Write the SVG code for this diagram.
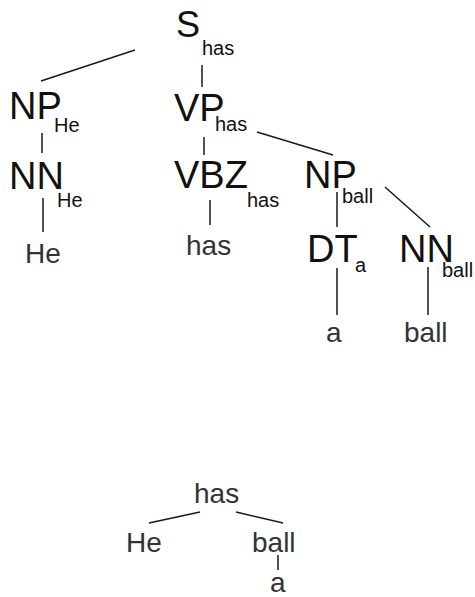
<svg xmlns="http://www.w3.org/2000/svg" width="475" height="597" viewBox="0 0 475 597">
  <style>
    text { font-family: "Liberation Sans", Arial, sans-serif; fill: #111; }
    .cat { font-size: 38px; }
    .top { font-size: 36px; }
    .sub { font-size: 20px; }
    .word { font-size: 28px; fill: #333; }
    .edge { stroke: #1a1a1a; stroke-width: 1.5; fill: none; }
  </style>
  <rect width="475" height="597" fill="#fff"/>

  <!-- constituency tree -->
  <g id="connectors">
    <line class="edge" x1="135" y1="50" x2="41" y2="81"/>
    <line class="edge" x1="202" y1="65" x2="202" y2="87"/>
    <line class="edge" x1="42" y1="133" x2="42" y2="153"/>
    <line class="edge" x1="43" y1="198" x2="43" y2="232"/>
    <line class="edge" x1="204" y1="137" x2="204" y2="155"/>
    <line class="edge" x1="257" y1="132" x2="333" y2="155"/>
    <line class="edge" x1="210" y1="200" x2="210" y2="225"/>
    <line class="edge" x1="337" y1="192" x2="337" y2="227"/>
    <line class="edge" x1="385" y1="187" x2="430" y2="227"/>
    <line class="edge" x1="337" y1="268" x2="337" y2="315"/>
    <line class="edge" x1="428" y1="267" x2="428" y2="315"/>
    <!-- dependency tree -->
    <line class="edge" x1="200" y1="512" x2="149" y2="523"/>
    <line class="edge" x1="236" y1="512" x2="283" y2="523"/>
    <line class="edge" x1="278" y1="555" x2="278" y2="570"/>
  </g>

  <g id="S_has"><text class="top" x="176" y="37">S</text><text class="sub" x="202" y="55">has</text></g>
  <g id="NP_He"><text class="cat" x="9" y="119">NP</text><text class="sub" x="54" y="132">He</text></g>
  <g id="VP_has"><text class="cat" x="174" y="121">VP</text><text class="sub" x="215" y="131">has</text></g>
  <g id="NN_He"><text class="cat" x="9" y="189">NN</text><text class="sub" x="57" y="207">He</text></g>
  <g id="VBZ_has"><text class="cat" x="174" y="188">VBZ</text><text class="sub" x="247" y="207">has</text></g>
  <g id="NP_ball"><text class="cat" x="304" y="188">NP</text><text class="sub" x="342" y="203">ball</text></g>
  <g id="DT_a"><text class="cat" x="307" y="262">DT</text><text class="sub" x="355" y="272">a</text></g>
  <g id="NN_ball"><text class="cat" x="399" y="262">NN</text><text class="sub" x="442" y="277">ball</text></g>

  <g id="word_He"><text class="word" x="25" y="263">He</text></g>
  <g id="word_has"><text class="word" x="186" y="255">has</text></g>
  <g id="word_a"><text class="word" x="326" y="342">a</text></g>
  <g id="word_ball"><text class="word" x="404" y="342">ball</text></g>

  <g id="dep_has"><text class="word" x="194" y="503">has</text></g>
  <g id="dep_He"><text class="word" x="126" y="552">He</text></g>
  <g id="dep_ball"><text class="word" x="252" y="552">ball</text></g>
  <g id="dep_a"><text class="word" x="270" y="592">a</text></g>
</svg>
